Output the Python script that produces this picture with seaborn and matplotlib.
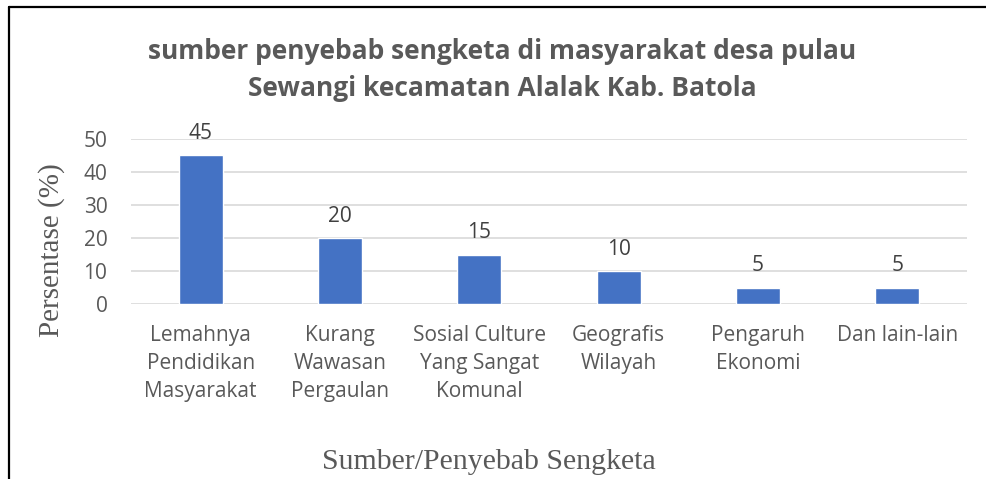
import matplotlib
matplotlib.use("Agg")
import matplotlib.pyplot as plt
import seaborn as sns
import pandas as pd
from matplotlib.lines import Line2D

# data
categories = [
    "Lemahnya\nPendidikan\nMasyarakat",
    "Kurang\nWawasan\nPergaulan",
    "Sosial Culture\nYang Sangat\nKomunal",
    "Geografis\nWilayah",
    "Pengaruh\nEkonomi",
    "Dan lain-lain",
]
persentase = [45, 20, 15, 10, 5, 5]
yticks = [0, 10, 20, 30, 40, 50]

title_text = "sumber penyebab sengketa di masyarakat desa pulau\nSewangi kecamatan Alalak Kab. Batola"
ylabel_text = "Persentase (%)"
xlabel_text = "Sumber/Penyebab Sengketa"

sns.set_theme(style="white")
plt.rcParams["font.family"] = ["Open Sans", "DejaVu Sans"]

df = pd.DataFrame({"kategori": categories, "persen": persentase})

W, H = 986, 479
fig = plt.figure(figsize=(W / 100, H / 100), dpi=100)
ax = fig.add_axes([131 / W, 1 - 304 / H, (967 - 131) / W, (304 - 139) / H])

sns.barplot(data=df, x="kategori", y="persen", color="#4472C4", width=0.315,
            saturation=1, ax=ax, zorder=3)

ax.set_ylim(0, 50)
ax.set_xlim(-0.5, len(categories) - 0.5)
ax.set_yticks(yticks)
ax.grid(axis="y", color="#D9D9D9", linewidth=1.2, zorder=0)
ax.grid(axis="x", visible=False)
for s in ax.spines.values():
    s.set_visible(False)
ax.tick_params(axis="both", length=0, colors="#595959", labelsize=15)
ax.tick_params(axis="y", pad=17)
ax.tick_params(axis="x", pad=15)
ax.set_xlabel("")
ax.set_ylabel("")

for lbl in ax.get_xticklabels():
    lbl.set_linespacing(1.45)

for i, v in enumerate(persentase):
    ax.annotate(str(v), (i, v), xytext=(0, 8), textcoords="offset points",
                ha="center", va="bottom", fontsize=15, color="#404040")

fig.text(502 / W, 1 - 70 / H, title_text, ha="center", va="center",
         fontsize=19, fontweight="bold", color="#595959", linespacing=1.45)

fig.text(52 / W, 1 - 250 / H, ylabel_text, rotation=90, ha="center", va="center",
         fontsize=21, color="#595959", family=["Liberation Serif", "DejaVu Serif"])
fig.text(489 / W, 1 - 462 / H, xlabel_text, ha="center", va="center",
         fontsize=21.5, color="#595959", family=["Liberation Serif", "DejaVu Serif"])

# border (only top and left visible)
fig.add_artist(Line2D([9 / W, 1], [1 - 7 / H, 1 - 7 / H], transform=fig.transFigure,
                      color="black", linewidth=1.6))
fig.add_artist(Line2D([9 / W, 9 / W], [0, 1 - 7 / H], transform=fig.transFigure,
                      color="black", linewidth=1.6))

fig.savefig("out.png", dpi=100, facecolor="white")
